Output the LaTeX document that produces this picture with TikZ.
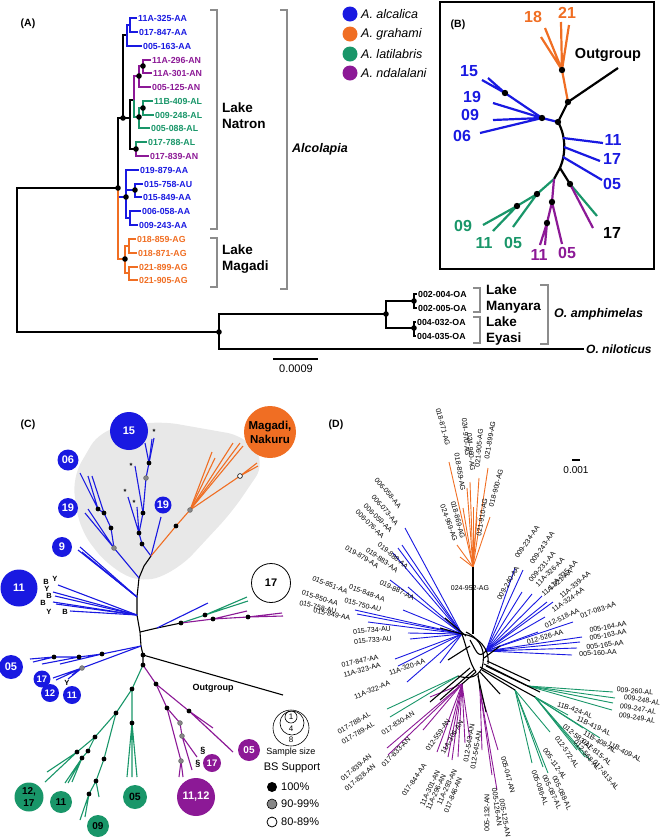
\documentclass[tikz,border=0pt]{standalone}
\usepackage{fontspec}
\setmainfont{Liberation Sans}
\usepackage{xcolor}
\usepackage{tikz}

\definecolor{cAlc}{RGB}{25,25,225}
\definecolor{cGra}{RGB}{240,110,35}
\definecolor{cLat}{RGB}{25,150,105}
\definecolor{cNda}{RGB}{140,25,150}
\definecolor{cBrk}{RGB}{140,140,140}
\definecolor{cShd}{RGB}{232,232,232}
\definecolor{cMid}{RGB}{135,135,135}

\newcommand{\fsz}[2]{\fontsize{#1}{#2}\selectfont}

\tikzset{
  plab/.style={inner sep=0pt, font=\fsz{10.5}{12}\bfseries},
  tx/.style={anchor=west, inner sep=1pt, font=\fsz{8.8}{10}\bfseries},
  lk/.style={anchor=west, align=left, inner sep=0pt, font=\fsz{13.5}{16}\bfseries},
  brk/.style={cBrk, line width=2.4pt},
  al/.style={line width=1.4pt},
  bl/.style={line width=2.2pt},
  blab/.style={inner sep=0pt, font=\fsz{16}{18}\bfseries},
  cl/.style={line width=1.1pt},
  ccirc/.style={circle, inner sep=0pt, text=white, font=\fsz{11}{12}\bfseries},
  smc/.style={ccirc, font=\fsz{9.5}{10}\bfseries},
  mk/.style={inner sep=0pt, font=\fsz{7.5}{8}\bfseries},
  dl/.style={line width=0.9pt},
  dk/.style={line width=1.1pt, black},
  dlab/.style={inner sep=0pt, font=\fsz{7}{8}},
}

\begin{document}
\begin{tikzpicture}[x=1pt,y=-1pt]
\useasboundingbox (0,0) rectangle (663,839);

% (A)
\node[plab] (pA) at (28,24) {(A)};
\node[tx, text=cAlc] (t1) at (137,18) {11A-325-AA};
\node[tx, text=cAlc] (t2) at (138,32) {017-847-AA};
\node[tx, text=cAlc] (t3) at (142,46) {005-163-AA};
\node[tx, text=cNda] (t4) at (151,60) {11A-296-AN};
\node[tx, text=cNda] (t5) at (152,73) {11A-301-AN};
\node[tx, text=cNda] (t6) at (151,87) {005-125-AN};
\node[tx, text=cLat] (t7) at (153,101) {11B-409-AL};
\node[tx, text=cLat] (t8) at (154,115) {009-248-AL};
\node[tx, text=cLat] (t9) at (150,128) {005-088-AL};
\node[tx, text=cLat] (t10) at (147,142) {017-788-AL};
\node[tx, text=cNda] (t11) at (149,156) {017-839-AN};
\node[tx, text=cAlc] (t12) at (139,170) {019-879-AA};
\node[tx, text=cAlc] (t13) at (143,184) {015-758-AU};
\node[tx, text=cAlc] (t14) at (142,197) {015-849-AA};
\node[tx, text=cAlc] (t15) at (141,211) {006-058-AA};
\node[tx, text=cAlc] (t16) at (138,225) {009-243-AA};
\node[tx, text=cGra] (t17) at (136,239) {018-859-AG};
\node[tx, text=cGra] (t18) at (137,253) {018-871-AG};
\node[tx, text=cGra] (t19) at (138,267) {021-899-AG};
\node[tx, text=cGra] (t20) at (138,280) {021-905-AG};
\node[tx] (o1) at (417,294) {002-004-OA};
\node[tx] (o2) at (417,308) {002-005-OA};
\node[tx] (o3) at (416,322) {004-032-OA};
\node[tx] (o4) at (416,336) {004-035-OA};
\node[anchor=west, inner sep=2pt, font=\fsz{12}{14}\bfseries\itshape] (oNil) at (584,349) {O. niloticus};

\coordinate (aR) at (17,260);
\coordinate (aAlc) at (118,188);
\coordinate (aUp) at (123,118);
\coordinate (aB1) at (127,35);
\coordinate (aB1a) at (130,25);
\coordinate (aNL) at (130,118);
\coordinate (aPG) at (134,100);
\coordinate (aP1) at (139,76);
\coordinate (aP1a) at (143,66);
\coordinate (aG1) at (139,117);
\coordinate (aG1a) at (143,108);
\coordinate (aMx) at (136,149);
\coordinate (aB2) at (126,197);
\coordinate (aB3) at (135,190);
\coordinate (aB4) at (130,218);
\coordinate (aGra) at (125,259);
\coordinate (aG2) at (129,246);
\coordinate (aG3) at (129,273);
\coordinate (aOut) at (219,332);
\coordinate (aAmp) at (386,314);
\coordinate (aMan) at (414,301);
\coordinate (aEya) at (414,328);

\draw[al] (aR) |- (aAlc) (aR) |- (aOut);
\draw[al] (aOut) |- (aAmp) (aOut) |- (oNil.west);
\draw[al] (aAmp) |- (aMan) (aAmp) |- (aEya);
\draw[al] (aMan) |- (o1.west) (aMan) |- (o2.west) (aEya) |- (o3.west) (aEya) |- (o4.west);
\draw[al] (aAlc) |- (aUp) (aUp) |- (aB1) (aUp) -- (aNL) (aNL) |- (aPG) (aNL) |- (aMx);
\draw[al, cAlc] (aB1) |- (aB1a) (aB1a) |- (t1.west) (aB1a) |- (t2.west) (aB1) |- (t3.west);
\draw[al, cNda] (aPG) |- (aP1) (aP1) |- (aP1a) (aP1a) |- (t4.west) (aP1a) |- (t5.west) (aP1) |- (t6.west);
\draw[al, cLat] (aPG) |- (aG1) (aG1) |- (aG1a) (aG1a) |- (t7.west) (aG1a) |- (t8.west) (aG1) |- (t9.west);
\draw[al, cLat] (aMx) |- (t10.west);
\draw[al, cNda] (aMx) |- (t11.west);
\draw[al, cAlc] (aAlc) |- (aB2) (aB2) |- (t12.west) (aB2) |- (aB3) (aB2) |- (aB4);
\draw[al, cAlc] (aB3) |- (t13.west) (aB3) |- (t14.west) (aB4) |- (t15.west) (aB4) |- (t16.west);
\draw[al, cGra] (aAlc) |- (aGra) (aGra) |- (aG2) (aGra) |- (aG3);
\draw[al, cGra] (aG2) |- (t17.west) (aG2) |- (t18.west) (aG3) |- (t19.west) (aG3) |- (t20.west);
\foreach \n in {aP1a,aP1,aG1a,aG1,aMx,aUp,aAlc,aB2,aB3,aGra,aOut,aAmp,aMan,aEya}
  \fill (\n) circle[radius=2.8];

\draw[brk] (210,10) -- (217,10) -- (217,229) -- (210,229);
\draw[brk] (210,238) -- (217,238) -- (217,287) -- (210,287);
\draw[brk] (280,10) -- (287,10) -- (287,289) -- (280,289);
\draw[brk] (473,288) -- (480,288) -- (480,312) -- (473,312);
\draw[brk] (473,317) -- (480,317) -- (480,343) -- (473,343);
\draw[brk] (540,285) -- (548,285) -- (548,344) -- (540,344);
\node[lk] (lkN) at (222,116) {Lake\\Natron};
\node[lk] (lkM) at (222,259) {Lake\\Magadi};
\node[anchor=west, inner sep=0pt, font=\fsz{12.5}{14}\bfseries\itshape] (alc) at (292,149) {Alcolapia};
\node[lk] (lkMa) at (486,299) {Lake\\Manyara};
\node[lk] (lkE) at (486,331) {Lake\\Eyasi};
\node[anchor=west, inner sep=0pt, font=\fsz{12.5}{14}\bfseries\itshape] (amp) at (554,314) {O. amphimelas};
\coordinate (sb1) at (273,359);
\coordinate (sb2) at (318,359);
\draw[line width=1.2pt] (sb1) -- (sb2);
\node[inner sep=0pt, font=\fsz{11}{12}] (sbA) at (296,369) {0.0009};

% legend
\fill[cAlc] (350,14) circle[radius=7.5];
\fill[cGra] (350,34) circle[radius=7.5];
\fill[cLat] (350,54) circle[radius=7.5];
\fill[cNda] (350,73) circle[radius=7.5];
\node[anchor=west, inner sep=0pt, font=\fsz{12.5}{14}\itshape] (lg1) at (361,14) {A. alcalica};
\node[anchor=west, inner sep=0pt, font=\fsz{12.5}{14}\itshape] (lg2) at (361,34) {A. grahami};
\node[anchor=west, inner sep=0pt, font=\fsz{12.5}{14}\itshape] (lg3) at (361,54) {A. latilabris};
\node[anchor=west, inner sep=0pt, font=\fsz{12.5}{14}\itshape] (lg4) at (361,73) {A. ndalalani};

% (B)
\draw[line width=1.2pt] (440,2) rectangle (654,269);
\node[plab] (pB) at (458,25) {(B)};
\coordinate (bOut) at (618,68);
\coordinate (bR) at (568,102);
\coordinate (bG) at (562,70);
\coordinate (bA) at (558,122);
\coordinate (bH) at (542,118);
\coordinate (b15) at (505,93);
\coordinate (bS) at (560,168);
\coordinate (bL) at (554,179);
\coordinate (bK) at (570,184);
\coordinate (bL1) at (537,194);
\coordinate (bL2) at (517,206);
\coordinate (bN1) at (552,202);
\coordinate (bN2) at (547,223);
\draw[bl] (bOut) -- (bR) -- (bA) .. controls (566,136) and (566,154) .. (bS) -- (bK);
\draw[bl] (bS) -- (bL);
\draw[bl, cGra] (bR) -- (bG) (bG) -- (545,28) (bG) -- (541,37) (bG) -- (561,22) (bG) -- (569,25);
\draw[bl, cAlc] (bA) -- (bH) -- (b15) -- (482,80) (b15) -- (488,78);
\draw[bl, cAlc] (bH) -- (493,103) (bH) -- (493,120) (bH) -- (480,133);
\draw[bl, cAlc] (563,138) -- (603,143) (564,147) -- (600,161) (563,157) -- (602,180);
\draw[bl, cLat] (bL) -- (bL1) -- (bL2) -- (483,225) (bL2) -- (493,231) (bL1) -- (513,227) (bK) -- (597,216);
\draw[bl, cNda] (bL) -- (bN1) -- (bN2) -- (540,245) (bN2) -- (545,245) (bN1) -- (562,244) (bK) -- (593,228);
\foreach \n in {bR,bG,bA,bH,b15,bL1,bL2,bN1,bN2,bK}
  \fill (\n) circle[radius=3.2];
\node[blab, text=cGra] (b18) at (533,17) {18};
\node[blab, text=cGra] (b21) at (567,13) {21};
\node[inner sep=0pt, font=\fsz{14.5}{16}\bfseries] (bOg) at (608,55) {Outgroup};
\node[blab, text=cAlc] (bt15) at (469,71) {15};
\node[blab, text=cAlc] (bt19) at (472,97) {19};
\node[blab, text=cAlc] (bt09) at (470,115) {09};
\node[blab, text=cAlc] (bt06) at (462,136) {06};
\node[blab, text=cAlc] (bt11) at (613,140) {11};
\node[blab, text=cAlc] (bt17) at (612,159) {17};
\node[blab, text=cAlc] (bt05) at (612,184) {05};
\node[blab, text=cLat] (bl09) at (463,226) {09};
\node[blab, text=cLat] (bl11) at (484,243) {11};
\node[blab, text=cLat] (bl05) at (513,243) {05};
\node[blab, text=cNda] (bn11) at (539,255) {11};
\node[blab, text=cNda] (bn05) at (567,253) {05};
\node[blab] (bk17) at (612,233) {17};

% (C)
\node[plab] (pC) at (28,425) {(C)};
\fill[cShd, rounded corners=18] (72,478) -- (100,430) -- (160,421) -- (245,436) -- (266,462) -- (232,512) -- (180,568) -- (143,584) -- (108,566) -- (80,530) -- cycle;
\coordinate (cJ1) at (151,556);
\coordinate (cJ2) at (139,578);
\coordinate (cJ3) at (137,597);
\coordinate (cJ4) at (137,615);
\coordinate (cJ5) at (140,632);
\coordinate (cJ6) at (141,646);
\coordinate (cJ7) at (143,655);
\coordinate (cJ8) at (143,665);
\coordinate (cB1) at (142,544);
\coordinate (cB2) at (139,533);
\coordinate (cB3) at (143,513);
\coordinate (cB4) at (146,478);
\coordinate (cB5) at (149,463);
\coordinate (cA1) at (114,548);
\coordinate (cA2) at (111,528);
\coordinate (cA3) at (104,513);
\coordinate (cA4) at (98,509);
\coordinate (cO1) at (176,526);
\coordinate (cO2) at (190,510);
\coordinate (cO4) at (240,476);
\coordinate (cR0) at (157,628);
\coordinate (cR1) at (181,623);
\coordinate (cR2) at (205,615);
\coordinate (cR3) at (213,619);
\coordinate (cR4) at (248,617);
\coordinate (cC1) at (102,654);
\coordinate (cC2) at (79,657);
\coordinate (cC3) at (54,657);
\coordinate (cC4) at (82,668);
\coordinate (cG1) at (132,689);
\coordinate (cG2) at (132,723);
\coordinate (cG3) at (116,713);
\coordinate (cG4) at (95,737);
\coordinate (cG5) at (77,752);
\coordinate (cG6) at (88,751);
\coordinate (cG7) at (82,758);
\coordinate (cG8) at (104,759);
\coordinate (cG9) at (96,781);
\coordinate (cG10) at (89,794);
\coordinate (cP1) at (156,684);
\coordinate (cP2) at (167,708);
\coordinate (cP3) at (189,711);
\coordinate (cP4) at (180,723);
\coordinate (cP5) at (182,736);
\coordinate (cP6) at (181,761);

\draw[cl] (cJ1) -- (144,566) -- (cJ2) -- (cJ3) -- (cJ4) -- (cJ5) -- (cJ6) -- (cJ7) -- (cJ8);
\draw[cl] (cJ5) -- (cR0) -- (cR1);
\draw[cl] (cJ7) -- (283,695);
\draw[cl, cAlc] (cJ1) -- (cB1) -- (cB2) -- (cB3) -- (cB4) -- (cB5);
\foreach \p in {(145,443),(152,439),(154,438)} \draw[cl, cAlc] (cB5) -- \p;
\draw[cl, cAlc] (cB3) -- (135,466) (cB2) -- (128,497) (cB2) -- (137,507) (cJ1) -- (161,517);
\draw[cl, cAlc] (cJ2) -- (cA1) -- (cA2) -- (cA3) -- (cA4) -- (80,473) (cA4) -- (88,476) (cA3) -- (92,476);
\draw[cl, cAlc] (cA1) -- (85,513) (cA1) -- (88,509);
\foreach \p in {(78,550),(80,547),(85,555),(82,552)} \draw[cl, cAlc] (cJ3) -- \p;
\foreach \p in {(58,585),(53,592),(55,596),(53,602),(56,604),(70,611)} \draw[cl, cAlc] (cJ4) -- \p;
\draw[cl, cGra] (cJ1) -- (cO1) -- (cO2) -- (cO4);
\foreach \p in {(212,452),(215,458),(233,443),(240,443),(243,446)} \draw[cl, cGra] (cO2) -- \p;
\draw[cl, cGra] (cO4) -- (257,463) (cO4) -- (258,466);
\draw[cl, cAlc] (cR0) -- (208,603);
\draw[cl, cLat] (cR1) -- (cR2) -- (247,597) (cR2) -- (248,601);
\draw[cl, cNda] (cR1) -- (cR3) -- (cR4) -- (282,613) (cR4) -- (283,616) (cR3) -- (247,611);
\draw[cl, cAlc] (cJ6) -- (cC1) -- (cC2) -- (cC3) -- (30,659) (cC3) -- (33,662) (cC2) -- (42,664) (cC1) -- (60,664);
\draw[cl, cAlc] (cJ6) -- (cC4) -- (53,678) (cC4) -- (56,680) (cC4) -- (68,679) (cC4) -- (72,675);
\draw[cl, cLat] (cJ8) -- (cG1) -- (cG2) -- (127,777) (cG2) -- (132,777) (cG2) -- (137,777);
\draw[cl, cLat] (cG1) -- (cG3) -- (cG4) -- (cG5) -- (47,772) (cG5) -- (45,782) (cG5) -- (50,770);
\draw[cl, cLat] (cG4) -- (cG6) -- (cG7) -- (65,783) (cG7) -- (68,783) (cG7) -- (72,782);
\draw[cl, cLat] (cG3) -- (cG8) -- (cG9) -- (cG10) -- (80,820) (cG10) -- (85,817) (cG9) -- (99,797);
\draw[cl, cNda] (cJ8) -- (cP1) -- (cP3) -- (233,752) (cP3) -- (230,749) (cP3) -- (213,728);
\draw[cl, cNda] (cP1) -- (cP2) -- (cP4) -- (cP5) -- (197,757) (cP5) -- (192,770);
\draw[cl, cNda] (cP2) -- (cP6) -- (183,777) (cP6) -- (179,777);
\foreach \n in {cB1,cB2,cB3,cB5,cA2,cA3,cA4,cO1,cR1,cR2,cR3,cR4,cC1,cC2,cC3,cJ7,cJ8,cG1,cG2,cG3,cG4,cG5,cG6,cG7,cG8,cG9,cG10,cP1,cP2,cP3}
  \fill (\n) circle[radius=2.4];
\foreach \n in {cB4,cA1,cO2,cC4,cP4,cP5,cP6}
  \filldraw[fill=cMid, draw=black!60, line width=0.5pt] (\n) circle[radius=2.4];
\filldraw[fill=white, draw=black, line width=0.6pt] (cO4) circle[radius=2.4];

\node[mk] (s1) at (154,432) {*};
\node[mk] (s2) at (131,466) {*};
\node[mk] (s3) at (125,492) {*};
\node[mk] (s4) at (134,503) {*};
\node[mk] (y1) at (46,582) {B};
\node[mk] (y2) at (55,579) {Y};
\node[mk] (y3) at (47,589) {Y};
\node[mk] (y4) at (49,596) {B};
\node[mk] (y5) at (43,603) {B};
\node[mk] (y6) at (49,612) {Y};
\node[mk] (y7) at (65,612) {B};
\node[mk] (y8) at (67,683) {Y};
\node[inner sep=0pt, font=\fsz{9}{10}\bfseries] (g1) at (203,751) {\S};
\node[inner sep=0pt, font=\fsz{9}{10}\bfseries] (g2) at (198,764) {\S};
\node[inner sep=0pt, font=\fsz{9}{10}\bfseries] (cOg) at (213,688) {Outgroup};

\node[ccirc, fill=cAlc, minimum size=38pt] (c15) at (129,431) {15};
\node[ccirc, fill=cAlc, minimum size=21pt] (c06) at (68,460) {06};
\node[ccirc, fill=cAlc, minimum size=20pt] (c19a) at (68,508) {19};
\node[ccirc, fill=cAlc, minimum size=20pt] (c9) at (62,547) {9};
\node[ccirc, fill=cAlc, minimum size=17pt] (c19b) at (163,505) {19};
\node[ccirc, fill=cAlc, minimum size=37pt] (c11) at (19,588) {11};
\node[ccirc, fill=cAlc, minimum size=24pt] (c05) at (11,667) {05};
\node[smc, fill=cAlc, minimum size=17pt] (c17) at (42,679) {17};
\node[smc, fill=cAlc, minimum size=18pt] (c12) at (50,693) {12};
\node[smc, fill=cAlc, minimum size=18pt] (c11b) at (72,695) {11};
\node[ccirc, fill=cGra, minimum size=52pt, align=center, font=\fsz{11.5}{14}\bfseries, text=black] (cMag) at (270,432) {Magadi,\\Nakuru};
\node[circle, draw, line width=0.8pt, minimum size=39pt, inner sep=0pt, font=\fsz{11}{12}\bfseries] (cW17) at (271,583) {17};
\node[ccirc, fill=cLat, minimum size=29pt, align=center, font=\fsz{10}{12}\bfseries, text=black] (cL1217) at (29,797) {12,\\17};
\node[ccirc, fill=cLat, minimum size=22pt, text=black, font=\fsz{10}{12}\bfseries] (cL11) at (61,802) {11};
\node[ccirc, fill=cLat, minimum size=24pt, text=black, font=\fsz{10.5}{12}\bfseries] (cL05) at (135,797) {05};
\node[ccirc, fill=cLat, minimum size=22pt, text=black, font=\fsz{10}{12}\bfseries] (cL09) at (98,826) {09};
\node[ccirc, fill=cNda, minimum size=22pt, font=\fsz{10}{12}\bfseries] (cN05) at (249,750) {05};
\node[smc, fill=cNda, minimum size=18pt] (cN17) at (212,763) {17};
\node[ccirc, fill=cNda, minimum size=38pt] (cN1112) at (196,797) {11,12};

\draw[line width=0.6pt] (291,728) circle[radius=18];
\draw[line width=0.6pt] (292,723) circle[radius=12];
\draw[line width=0.6pt] (291,717) circle[radius=6];
\node[inner sep=0pt, font=\fsz{8}{9}] (ss1) at (291,717) {1};
\node[inner sep=0pt, font=\fsz{8}{9}] (ss4) at (291,729) {4};
\node[inner sep=0pt, font=\fsz{8}{9}] (ss8) at (291,740) {8};
\node[inner sep=0pt, font=\fsz{9}{10}] (ssz) at (291,752) {Sample size};
\node[inner sep=0pt, font=\fsz{11}{12}] (bss) at (292,768) {BS Support};
\fill (272,787) circle[radius=5];
\filldraw[fill=cMid, draw=black, line width=0.6pt] (272,804) circle[radius=5];
\filldraw[fill=white, draw=black, line width=0.8pt] (272,822) circle[radius=5];
\node[anchor=west, inner sep=0pt, font=\fsz{11}{12}] (bs1) at (281,787) {100\%};
\node[anchor=west, inner sep=0pt, font=\fsz{11}{12}] (bs2) at (281,804) {90-99\%};
\node[anchor=west, inner sep=0pt, font=\fsz{11}{12}] (bs3) at (281,822) {80-89\%};

% (D)
\node[plab] (pD) at (336,425) {(D)};
\coordinate (dsb1) at (572,460);
\coordinate (dsb2) at (580,460);
\draw[line width=1.3pt] (dsb1) -- (dsb2);
\node[inner sep=0pt, font=\fsz{10}{11}] (dsb) at (576,470) {0.001};
\coordinate (dO) at (473,567);
\coordinate (dBL) at (462,634);
\coordinate (dBR) at (486,651);
\coordinate (dGR1) at (528,686);
\coordinate (dGR2) at (535,697);
\coordinate (dGB) at (515,690);
\coordinate (dGL) at (458,676);
\coordinate (dPL) at (462,684);
\coordinate (dPB) at (480,690);
\foreach \p in {(449,462),(460,557),(463,508),(470,482),(473,507),(479,478),(488,468),(490,517),(467,488),(477,517),(457,545)}
  \draw[dl, cGra] (dO) -- \p;
\foreach \p in {(405,528),(398,548),(402,545),(393,553),(390,580),(408,587),(355,610),(357,614),(368,622),(403,610),(408,633),(410,639),(395,659),(398,666),(440,663),(407,682)}
  \draw[dl, cAlc] (dBL) -- \p;
\foreach \p in {(515,568),(523,570),(522,592),(532,594),(542,596),(547,602),(553,602),(545,617),(573,622),(538,632),(582,637),(580,642),(577,648),(572,655)}
  \draw[dl, cAlc] (dBR) -- \p;
\foreach \p in {(613,692),(615,698),(613,703),(612,710)}
  \draw[dl, cLat] (dGR1) -- \p;
\foreach \p in {(568,715),(583,728),(600,738),(585,757),(590,760),(577,750)}
  \draw[dl, cLat] (dGR2) -- \p;
\foreach \p in {(532,763),(543,767),(550,732),(548,773)}
  \draw[dl, cLat] (dGB) -- \p;
\foreach \p in {(387,709),(390,717)}
  \draw[dl, cLat] (dGL) -- \p;
\foreach \p in {(430,697),(423,730),(387,748),(388,755),(437,752),(445,750),(448,757),(452,760),(458,757),(465,743),(470,740)}
  \draw[dl, cNda] (dPL) -- \p;
\foreach \p in {(482,750),(492,775),(498,750),(497,790)}
  \draw[dl, cNda] (dPB) -- \p;
\draw[dk, line width=1.6pt] (dO) -- (473,634);
\draw[dk] (dBL) .. controls (478,636) and (490,648) .. (488,664);
\draw[dk] (466,632) .. controls (482,640) and (486,652) .. (482,668);
\draw[dk] (dBL) .. controls (468,652) and (470,664) .. (476,672);
\draw[dk] (470,640) .. controls (476,650) and (478,660) .. (dBR);
\draw[dk] (482,668) .. controls (478,676) and (470,680) .. (dGL);
\draw[dk] (440,628) -- (dBL) (445,618) -- (466,636) (448,660) -- (470,646);
\draw[dk] (484,664) -- (dGR1) (487,661) -- (530,681) (480,667) -- (dGR2) (482,670) -- (dGB);
\draw[dk] (476,672) -- (dPL) (474,670) -- (440,700) (478,674) -- (dPB) (480,672) -- (500,694);
\draw[dk] (470,668) -- (430,702) (486,666) -- (540,692) (484,658) -- (500,646) (478,676) -- (486,712);
\foreach \x/\y/\r/\t [count=\i] in {
  443/427/-75/018-871-AG, 466/437/-85/024-970-AG, 471/452/-85/024-960-AG, 460/472/-80/018-859-AG,
  479/448/85/021-905-AG, 490/440/80/021-899-AG, 496/488/75/018-900-AG, 458/520/-75/018-869-AG,
  449/523/-70/024-969-AG, 482/517/80/021-910-AG, 470/588/0/024-952-AG,
  388/493/-50/006-058-AA, 385/510/-50/006-073-AA, 378/518/-45/006-059-AA, 370/524/-45/006-076-AA,
  362/557/-30/019-879-AA, 382/560/-35/019-883-AA, 393/556/-40/019-888-AA, 397/590/-25/019-887-AA,
  367/593/-20/015-848-AA, 363/605/-15/015-750-AU, 330/585/-22/015-851-AA, 320/598/-17/015-850-AA,
  318/607/-13/015-758-AU, 332/614/-12/015-849-AA, 372/630/5/015-734-AU, 373/640/5/015-733-AU,
  360/661/12/017-847-AA, 362/670/15/11A-323-AA, 407/667/20/11A-320-AA, 372/690/22/11A-322-AA,
  527/542/55/009-234-AA, 542/548/55/009-243-AA, 542/567/50/009-231-AA, 508/583/60/009-240-AA,
  550/572/45/11A-326-AA, 563/575/45/11A-325-AA, 557/583/40/11A-321-AA, 575/585/40/11A-339-AA,
  568/600/35/11A-324-AA, 562/618/25/012-518-AA, 598/610/20/017-083-AA, 545/637/15/012-526-AA,
  608/627/10/005-164-AA, 608/635/10/005-163-AA, 605/645/8/005-165-AA, 598/653/3/005-160-AA,
  635/691/-5/009-260-AL, 642/700/-10/009-248-AL, 638/709/-10/009-247-AL, 637/718/-10/009-249-AL,
  575/710/-20/11B-424-AL, 594/726/-25/11B-419-AL, 578/737/-40/012-583-AL, 600/742/-30/11B-408-AL,
  625/752/-28/11B-409-AL, 567/752/-55/012-572-AL, 587/755/-50/012-568-AL, 597/752/-40/017-815-AL,
  606/775/-50/017-813-AL, 555/764/-55/005-112-AL, 562/793/-65/005-088-AL, 552/792/-65/005-087-AL,
  540/788/-70/005-086-AL, 508/775/-75/005-047-AN, 505/818/-80/005-125-AN, 497/807/-82/005-126-AN,
  487/813/90/005-132-AN, 469/743/80/012-543-AN, 476/750/80/012-545-AN, 452/737/60/11A-306-AN,
  438/735/55/012-559-AN, 430/788/65/11A-301-AN, 436/792/65/11A-296-AN, 447/787/65/11A-293-AN,
  453/795/68/017-846-AN, 414/780/55/017-844-AA, 356/768/40/017-839-AN, 360/778/40/017-828-AN,
  396/752/45/017-833-AN, 398/723/33/017-830-AN, 354/723/30/017-788-AL, 358/733/30/017-789-AL}
  \node[dlab, rotate=\r] (d\i) at (\x,\y) {\t};

\end{tikzpicture}
\end{document}
